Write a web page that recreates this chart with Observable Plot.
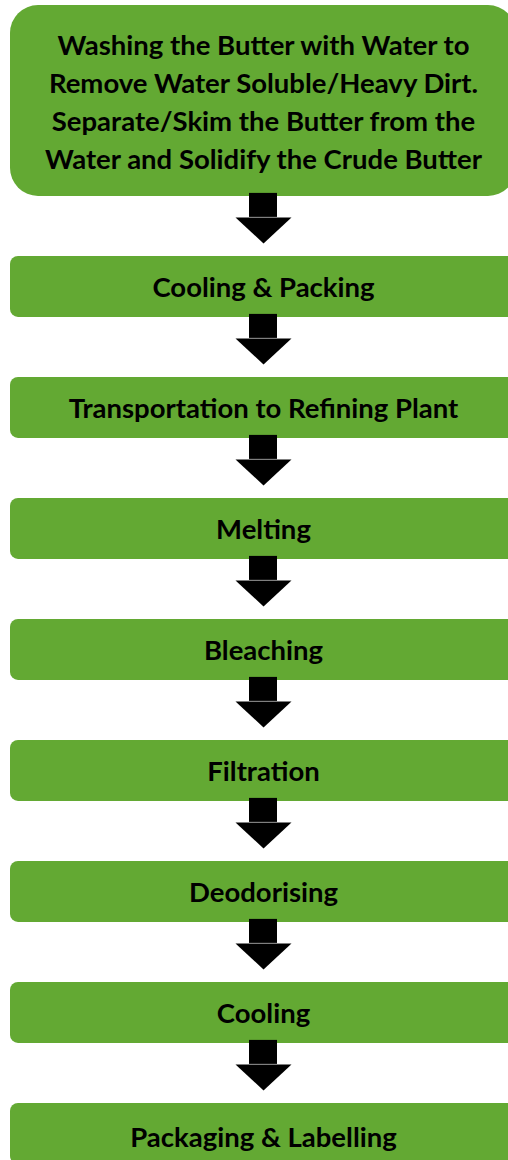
<!DOCTYPE html>
<html><head><meta charset="utf-8">
<script src="https://cdn.jsdelivr.net/npm/d3@7"></script>
<script src="https://cdn.jsdelivr.net/npm/@observablehq/plot@0.6"></script>
<style>html,body{margin:0;padding:0;background:#fff;overflow:hidden}</style>
</head><body><div id="chart"></div>
<script>
// Flowchart steps (top to bottom)
const steps = [
  "Washing the Butter with Water to\nRemove Water Soluble/Heavy Dirt.\nSeparate/Skim the Butter from the\nWater and Solidify the Crude Butter",
  "Cooling & Packing",
  "Transportation to Refining Plant",
  "Melting",
  "Bleaching",
  "Filtration",
  "Deodorising",
  "Cooling",
  "Packaging & Labelling"
];

// layout (in pixel units of the scales)
const W = 508, H = 1160;
const left = 10, right = 516, cx = (left + right) / 2;
const top0 = 5, singleH = 61, lineStep = 43.3, gap = 60;
const shaftW = 28, headW = 56, headStart = 21, headLen = 26;

let y = top0;
const boxes = steps.map((label, i) => {
  const n = label.split("\n").length;
  const h = singleH + (n - 1) * lineStep;
  const b = {i, label, n, y1: y, y2: y + h, yc: y + h / 2};
  y += h + gap;
  return b;
});
const arrows = boxes.slice(0, -1).map(b => ({i: b.i, top: b.y2 - 3, headTop: b.y2 + headStart, tip: b.y2 + headStart + headLen}));
const heads = arrows.flatMap(a => [
  {i: a.i, x: cx - headW / 2, y: a.headTop},
  {i: a.i, x: cx + headW / 2, y: a.headTop},
  {i: a.i, x: cx, y: a.tip}
]);

const green = "#63a933";
const font = "Lato, 'Open Sans', sans-serif";

const chart = Plot.plot({
  width: W, height: H,
  margin: 0,
  x: {domain: [0, W], range: [0, W], axis: null},
  y: {domain: [0, H], range: [0, H], axis: null},
  style: {background: "#fff", overflow: "hidden"},
  marks: [
    Plot.rect(boxes.filter(d => d.n === 1), {x1: left, x2: right, y1: "y1", y2: "y2", fill: green, rx: 8}),
    Plot.rect(boxes.filter(d => d.n > 1), {x1: left, x2: right, y1: "y1", y2: "y2", fill: green, rx: 28}),
    Plot.rect(arrows, {x1: cx - shaftW / 2, x2: cx + shaftW / 2, y1: "top", y2: "headTop", fill: "#000"}),
    Plot.line(heads, {x: "x", y: "y", z: "i", fill: "#000", stroke: "none"}),
    Plot.text(boxes.filter(d => d.n === 1), {x: cx, y: d => d.yc + (d.i === steps.length - 1 ? 4 : 1), text: "label", fontSize: 27.5, fontWeight: "bold", fontFamily: font, fill: "#000", lineAnchor: "middle"}),
    Plot.text(boxes.filter(d => d.n > 1), {x: cx, y: d => d.yc - 1, text: "label", fontSize: 27.5, fontWeight: "bold", fontFamily: font, fill: "#000", lineAnchor: "middle", lineHeight: 1.375})
  ]
});
document.getElementById("chart").appendChild(chart);
</script>
</body></html>
